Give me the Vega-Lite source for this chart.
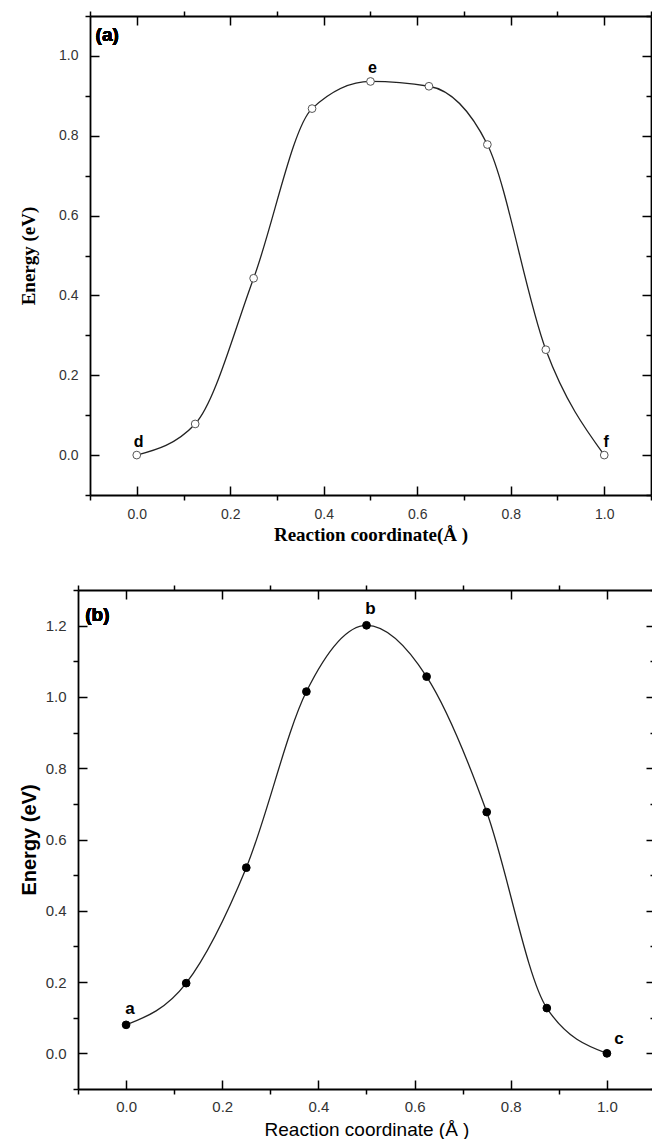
{
  "$schema": "https://vega.github.io/schema/vega-lite/v6.json",
  "padding": {"left": 12, "top": 10, "right": 0, "bottom": 0},
  "background": "white",
  "spacing": 40,
  "config": {"view": {"stroke": null}, "axis": {"grid": false, "tickWidth": 1.5, "tickColor": "black", "domainColor": "black", "domainWidth": 1.8, "labelFlush": false, "labelOverlap": false, "labelBound": false}, "font": "Liberation Sans"},
  "datasets": {
    "a": [
      {"x": 0, "E": 0, "label": "d"},
      {"x": 0.125, "E": 0.078, "label": ""},
      {"x": 0.25, "E": 0.443, "label": ""},
      {"x": 0.375, "E": 0.868, "label": ""},
      {"x": 0.5, "E": 0.936, "label": "e"},
      {"x": 0.625, "E": 0.924, "label": ""},
      {"x": 0.75, "E": 0.778, "label": ""},
      {"x": 0.875, "E": 0.264, "label": ""},
      {"x": 1.0, "E": 0, "label": "f"}
    ],
    "b": [
      {"x": 0, "E": 0.080, "label": "a"},
      {"x": 0.125, "E": 0.197, "label": ""},
      {"x": 0.25, "E": 0.521, "label": ""},
      {"x": 0.375, "E": 1.015, "label": ""},
      {"x": 0.5, "E": 1.201, "label": "b"},
      {"x": 0.625, "E": 1.057, "label": ""},
      {"x": 0.75, "E": 0.677, "label": ""},
      {"x": 0.875, "E": 0.127, "label": ""},
      {"x": 1.0, "E": 0.0, "label": "c"}
    ],
    "none": [{"k": 0}]
  },
  "vconcat": [
    {"spacing": 0, "hconcat": [
    {"width": 1, "height": 1, "data": {"name": "none"}, "mark": {"type": "point", "opacity": 0}},
    {
      "width": 561,
      "height": 479,
      "data": {"name": "a"},
      "layer": [
        {
          "encoding": {
            "x": {"field": "x", "type": "quantitative",
              "scale": {"domain": [-0.1, 1.1], "nice": false, "zero": false},
              "axis": {"orient": "bottom", "values": [0, 0.2, 0.4, 0.6, 0.8, 1.0], "format": ".1f",
                "tickSize": -9, "labelPadding": 21, "labelFont": "Liberation Sans", "labelFontSize": 14, "labelColor": "#333",
                "title": "Reaction coordinate(Å )", "titleFont": "Liberation Serif", "titleFontSize": 19,
                "titleFontWeight": "bold", "titleColor": "black", "titlePadding": 4}},
            "y": {"field": "E", "type": "quantitative",
              "scale": {"domain": [-0.1, 1.1], "nice": false, "zero": false},
              "axis": {"orient": "left", "values": [0, 0.2, 0.4, 0.6, 0.8, 1.0], "format": ".1f",
                "tickSize": -9, "labelPadding": 21, "labelFont": "Liberation Sans", "labelFontSize": 14, "labelColor": "#333",
                "title": "Energy (eV)", "titleFont": "Liberation Serif", "titleFontSize": 19,
                "titleFontWeight": "bold", "titleColor": "black", "titlePadding": 20.5}}
          },
          "layer": [
            {"mark": {"type": "line", "interpolate": "monotone", "color": "#222", "strokeWidth": 1.3}},
            {"mark": {"type": "point", "shape": "circle", "filled": true, "fill": "white", "stroke": "#555", "strokeWidth": 1, "size": 60, "opacity": 1}},
            {"transform": [{"filter": "datum.label != ''"}],
             "mark": {"type": "text", "dy": -13, "dx": 2, "font": "Liberation Sans", "fontWeight": "bold", "fontSize": 16, "color": "black"},
             "encoding": {"text": {"field": "label"}}},
            {"mark": {"type": "text", "align": "left", "baseline": "middle", "font": "Liberation Sans", "fontWeight": "bold", "fontSize": 19, "color": "black"},
             "encoding": {"x": {"datum": -0.088}, "y": {"datum": 1.053}, "text": {"value": "(a)"}}}
          ]
        },
        {
          "mark": {"type": "point", "opacity": 0},
          "encoding": {
            "x": {"field": "x", "type": "quantitative", "scale": {"domain": [-0.1, 1.1], "nice": false, "zero": false},
              "axis": {"orient": "top", "labels": false, "title": null, "values": [0, 0.2, 0.4, 0.6, 0.8, 1.0], "tickSize": -9}},
            "y": {"field": "E", "type": "quantitative", "scale": {"domain": [-0.1, 1.1], "nice": false, "zero": false},
              "axis": {"orient": "right", "labels": false, "title": null, "values": [0, 0.2, 0.4, 0.6, 0.8, 1.0], "tickSize": -9}}
          }
        },
        {
          "mark": {"type": "point", "opacity": 0},
          "encoding": {
            "x": {"field": "x", "type": "quantitative", "scale": {"domain": [-0.1, 1.1], "nice": false, "zero": false},
              "axis": {"orient": "bottom", "labels": false, "title": null, "domain": false, "values": [-0.1, 0.1, 0.3, 0.5, 0.7, 0.9, 1.1], "tickSize": 5}},
            "y": {"field": "E", "type": "quantitative", "scale": {"domain": [-0.1, 1.1], "nice": false, "zero": false},
              "axis": {"orient": "left", "labels": false, "title": null, "domain": false, "values": [-0.1, 0.1, 0.3, 0.5, 0.7, 0.9, 1.1], "tickSize": 5}}
          }
        },
        {
          "mark": {"type": "point", "opacity": 0},
          "encoding": {
            "x": {"field": "x", "type": "quantitative", "scale": {"domain": [-0.1, 1.1], "nice": false, "zero": false},
              "axis": {"orient": "top", "labels": false, "title": null, "domain": false, "values": [-0.1, 0.1, 0.3, 0.5, 0.7, 0.9, 1.1], "tickSize": 5}},
            "y": {"field": "E", "type": "quantitative", "scale": {"domain": [-0.1, 1.1], "nice": false, "zero": false},
              "axis": {"orient": "right", "labels": false, "title": null, "domain": false, "values": [-0.1, 0.1, 0.3, 0.5, 0.7, 0.9, 1.1], "tickSize": -5}}
          }
        }
      ],
      "resolve": {"axis": {"x": "independent", "y": "independent"}}
    }
    ]},
    {"spacing": 0, "hconcat": [
    {"width": 1, "height": 1, "data": {"name": "none"}, "mark": {"type": "point", "opacity": 0}},
    {
      "width": 577,
      "height": 499,
      "data": {"name": "b"},
      "layer": [
        {
          "encoding": {
            "x": {"field": "x", "type": "quantitative",
              "scale": {"domain": [-0.1, 1.1], "nice": false, "zero": false},
              "axis": {"orient": "bottom", "values": [0, 0.2, 0.4, 0.6, 0.8, 1.0], "format": ".1f",
                "tickSize": -9, "labelPadding": 19, "labelFont": "Liberation Sans", "labelFontSize": 15, "labelColor": "#333",
                "title": "Reaction coordinate (Å )", "titleFont": "Liberation Sans", "titleFontSize": 19,
                "titleFontWeight": "normal", "titleColor": "black", "titlePadding": 6}},
            "y": {"field": "E", "type": "quantitative",
              "scale": {"domain": [-0.1, 1.3], "nice": false, "zero": false},
              "axis": {"orient": "left", "values": [0, 0.2, 0.4, 0.6, 0.8, 1.0, 1.2], "format": ".1f",
                "tickSize": -9, "labelPadding": 21, "labelFont": "Liberation Sans", "labelFontSize": 15, "labelColor": "#333",
                "title": "Energy (eV)", "titleFont": "Liberation Sans", "titleFontSize": 20,
                "titleFontWeight": "bold", "titleColor": "black", "titlePadding": 6}}
          },
          "layer": [
            {"mark": {"type": "line", "interpolate": "monotone", "color": "#222", "strokeWidth": 1.3}},
            {"mark": {"type": "point", "shape": "circle", "filled": true, "fill": "black", "stroke": "black", "strokeWidth": 1, "size": 60, "opacity": 1}},
            {"transform": [{"filter": "datum.label == 'a' || datum.label == 'b'"}],
             "mark": {"type": "text", "dy": -16, "dx": 4, "font": "Liberation Sans", "fontWeight": "bold", "fontSize": 17, "color": "black"},
             "encoding": {"text": {"field": "label"}}},
            {"transform": [{"filter": "datum.label == 'c'"}],
             "mark": {"type": "text", "dy": -14, "dx": 12, "font": "Liberation Sans", "fontWeight": "bold", "fontSize": 17, "color": "black"},
             "encoding": {"text": {"field": "label"}}},
            {"mark": {"type": "text", "align": "left", "baseline": "middle", "font": "Liberation Sans", "fontWeight": "bold", "fontSize": 19, "color": "black"},
             "encoding": {"x": {"datum": -0.085}, "y": {"datum": 1.229}, "text": {"value": "(b)"}}}
          ]
        },
        {
          "mark": {"type": "point", "opacity": 0},
          "encoding": {
            "x": {"field": "x", "type": "quantitative", "scale": {"domain": [-0.1, 1.1], "nice": false, "zero": false},
              "axis": {"orient": "top", "labels": false, "title": null, "values": [0, 0.2, 0.4, 0.6, 0.8, 1.0], "tickSize": -9}},
            "y": {"field": "E", "type": "quantitative", "scale": {"domain": [-0.1, 1.3], "nice": false, "zero": false},
              "axis": {"orient": "right", "labels": false, "title": null, "values": [0, 0.2, 0.4, 0.6, 0.8, 1.0, 1.2], "tickSize": -9}}
          }
        },
        {
          "mark": {"type": "point", "opacity": 0},
          "encoding": {
            "x": {"field": "x", "type": "quantitative", "scale": {"domain": [-0.1, 1.1], "nice": false, "zero": false},
              "axis": {"orient": "bottom", "labels": false, "title": null, "domain": false, "values": [-0.1, 0.1, 0.3, 0.5, 0.7, 0.9, 1.1], "tickSize": 5}},
            "y": {"field": "E", "type": "quantitative", "scale": {"domain": [-0.1, 1.3], "nice": false, "zero": false},
              "axis": {"orient": "left", "labels": false, "title": null, "domain": false, "values": [-0.1, 0.1, 0.3, 0.5, 0.7, 0.9, 1.1, 1.3], "tickSize": 5}}
          }
        },
        {
          "mark": {"type": "point", "opacity": 0},
          "encoding": {
            "x": {"field": "x", "type": "quantitative", "scale": {"domain": [-0.1, 1.1], "nice": false, "zero": false},
              "axis": {"orient": "top", "labels": false, "title": null, "domain": false, "values": [-0.1, 0.1, 0.3, 0.5, 0.7, 0.9, 1.1], "tickSize": 5}},
            "y": {"field": "E", "type": "quantitative", "scale": {"domain": [-0.1, 1.3], "nice": false, "zero": false},
              "axis": {"orient": "right", "labels": false, "title": null, "domain": false, "values": [-0.1, 0.1, 0.3, 0.5, 0.7, 0.9, 1.1, 1.3], "tickSize": -5}}
          }
        }
      ],
      "resolve": {"axis": {"x": "independent", "y": "independent"}}
    }
    ]}
  ]
}
